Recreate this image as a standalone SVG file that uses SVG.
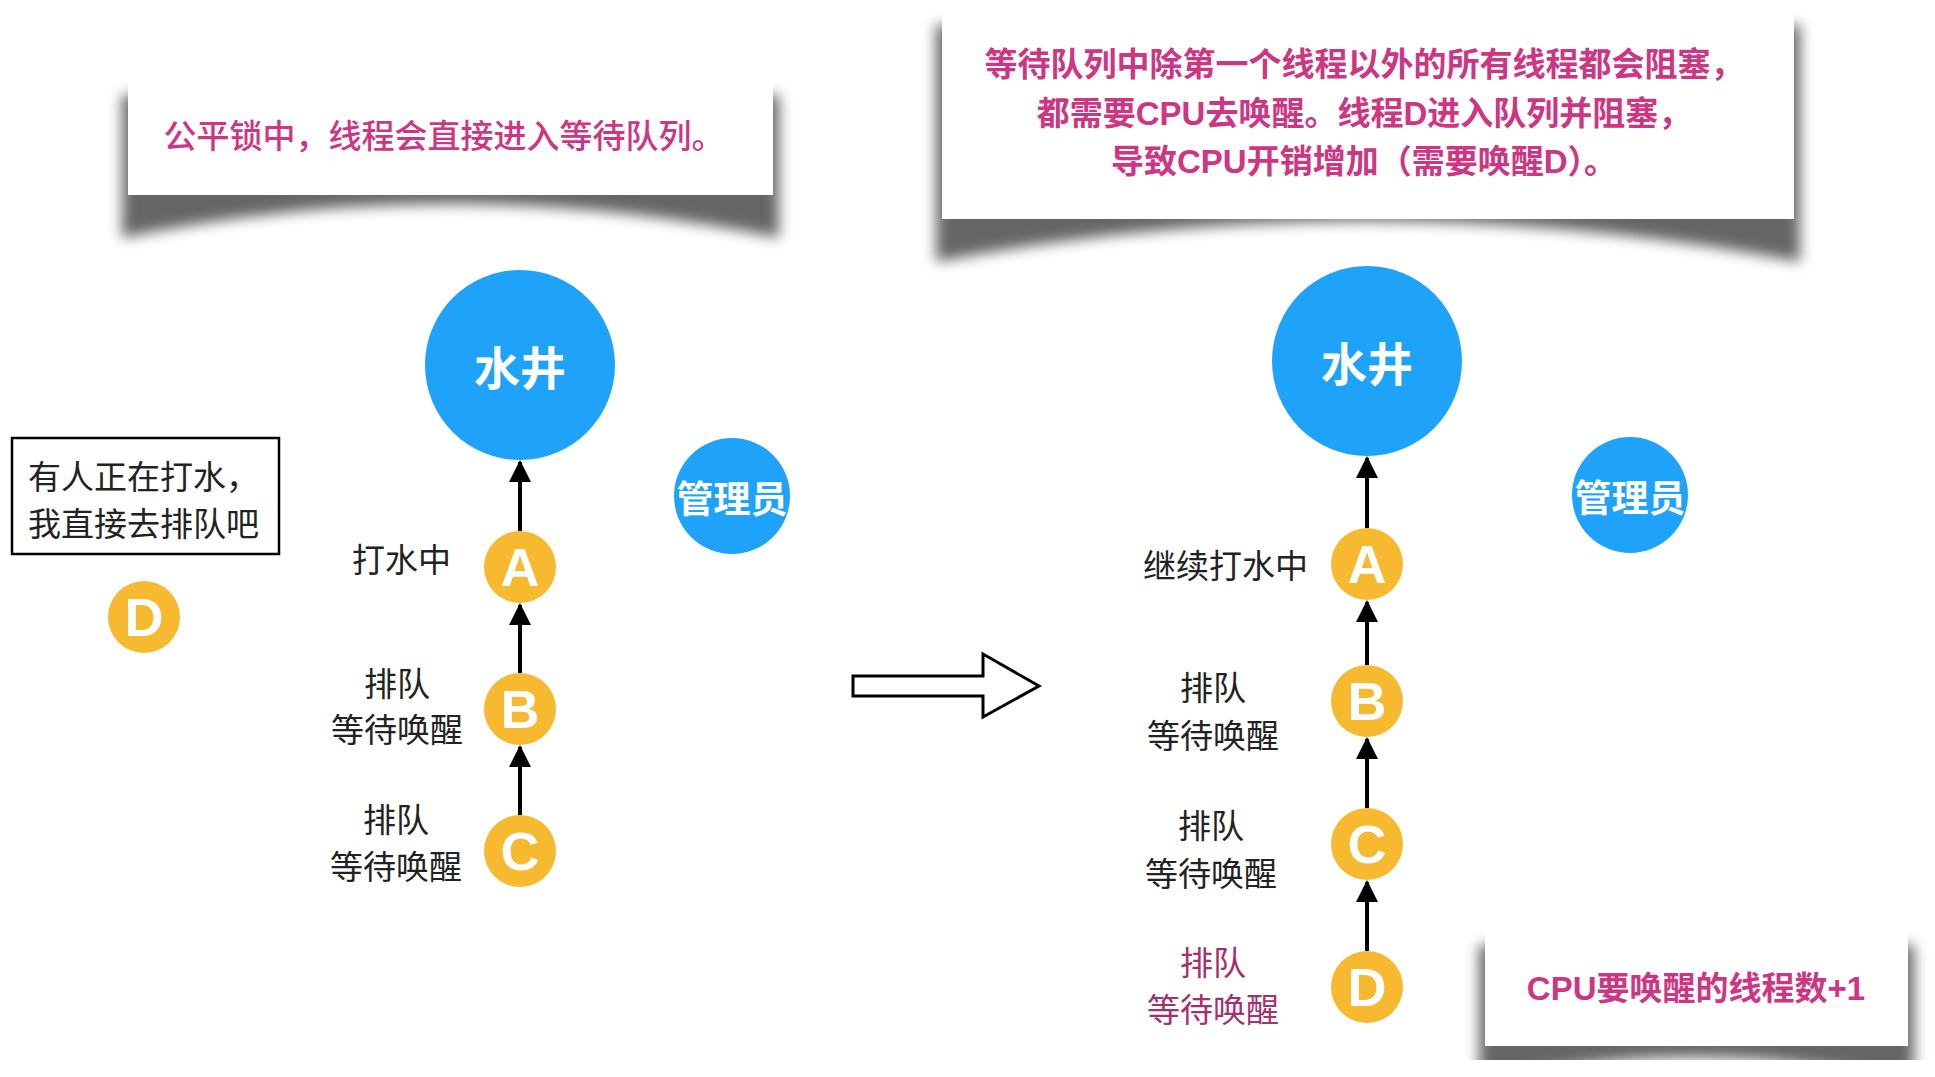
<svg xmlns="http://www.w3.org/2000/svg" width="1935" height="1077" viewBox="0 0 1935 1077">
<style>
.cjk{font-family:"Noto Sans CJK SC","Liberation Sans",sans-serif;}
.note{font-family:"Liberation Sans","Noto Sans CJK SC",sans-serif;fill:#CD3683;font-size:33px;text-anchor:middle;dominant-baseline:central;}
.lbl{font-family:"Noto Sans CJK SC",sans-serif;font-size:33px;fill:#222;dominant-baseline:central;}
.lbl.new{fill:#A3306F;}
.well{fill:#1FA3FA;}
.wtxt{font-family:"Noto Sans CJK SC",sans-serif;fill:#fff;text-anchor:middle;dominant-baseline:central;font-weight:bold;}
.thr{fill:#F6B92F;}
.ltr{font-family:"Liberation Sans",Arial,sans-serif;font-weight:bold;font-size:54px;fill:#fff;text-anchor:middle;}
.card{fill:#fff;}
.shadow{fill:#000;opacity:0.6;filter:url(#blur);}
.conn{stroke:#000;stroke-width:4;fill:none;marker-end:url(#ah);}
</style>
<defs>
<filter id="blur" x="-10%" y="-30%" width="120%" height="160%"><feGaussianBlur stdDeviation="7"/></filter>
<marker id="ah" markerUnits="userSpaceOnUse" markerWidth="22" markerHeight="22" viewBox="0 0 22 22" refX="20" refY="11" orient="auto"><path d="M0,0 L22,11 L0,22 Z" fill="#000"/></marker>
<clipPath id="clipBottom"><rect x="0" y="0" width="1935" height="1060"/></clipPath>
</defs>
<rect width="1935" height="1077" fill="#fff"/>

<!-- left note -->
<g id="note-left">
<path class="shadow" d="M122,95 L779,95 L779,238 Q450,170 122,238 Z"/>
<rect class="card" x="128" y="77" width="645" height="118"/>
<text class="note" x="444" y="136" font-weight="500">公平锁中，线程会直接进入等待队列。</text>
</g>

<!-- right note -->
<g id="note-right">
<path class="shadow" d="M936,25 L1800,25 L1800,262 Q1368,180 936,262 Z"/>
<rect class="card" x="942" y="5" width="852" height="214"/>
<text class="note" x="1364" y="64" font-weight="bold">等待队列中除第一个线程以外的所有线程都会阻塞，</text>
<text class="note" x="1364" y="113" font-weight="bold">都需要CPU去唤醒。线程D进入队列并阻塞，</text>
<text class="note" x="1364" y="161" font-weight="bold">导致CPU开销增加（需要唤醒D）。</text>
</g>

<!-- speech box -->
<g id="say-box">
<rect x="12" y="438" width="267" height="116" fill="#fff" stroke="#000" stroke-width="2.5"/>
<text class="cjk" x="28" y="475" font-size="33" fill="#222" dominant-baseline="central">有人正在打水，</text>
<text class="cjk" x="28" y="522" font-size="33" fill="#222" dominant-baseline="central">我直接去排队吧</text>
</g>

<!-- left side nodes -->
<g id="well-left"><circle class="well" cx="520" cy="365" r="95"/><text class="wtxt" x="520" y="365" font-size="46">水井</text></g>
<g id="admin-left"><circle class="well" cx="732" cy="496" r="58"/><text class="wtxt" x="732" y="497" font-size="37">管理员</text></g>
<g id="D-left"><circle class="thr" cx="144" cy="617" r="36"/><text class="ltr" x="144" y="636">D</text></g>
<g id="A-left"><circle class="thr" cx="520" cy="567" r="36"/><text class="ltr" x="520" y="586">A</text><text class="lbl" x="451" y="558" text-anchor="end">打水中</text></g>
<g id="B-left"><circle class="thr" cx="520" cy="709" r="36"/><text class="ltr" x="520" y="728">B</text><text class="lbl" x="397" y="682" text-anchor="middle">排队</text><text class="lbl" x="397" y="728" text-anchor="middle">等待唤醒</text></g>
<g id="C-left"><circle class="thr" cx="520" cy="851" r="36"/><text class="ltr" x="520" y="870">C</text><text class="lbl" x="396" y="818" text-anchor="middle">排队</text><text class="lbl" x="396" y="865" text-anchor="middle">等待唤醒</text></g>

<!-- right side nodes -->
<g id="well-right"><circle class="well" cx="1367" cy="361" r="95"/><text class="wtxt" x="1367" y="361" font-size="46">水井</text></g>
<g id="admin-right"><circle class="well" cx="1630" cy="495" r="58"/><text class="wtxt" x="1630" y="496" font-size="37">管理员</text></g>
<g id="A-right"><circle class="thr" cx="1367" cy="564" r="36"/><text class="ltr" x="1367" y="583">A</text><text class="lbl" x="1308" y="564" text-anchor="end">继续打水中</text></g>
<g id="B-right"><circle class="thr" cx="1367" cy="701" r="36"/><text class="ltr" x="1367" y="720">B</text><text class="lbl" x="1213" y="686" text-anchor="middle">排队</text><text class="lbl" x="1213" y="734" text-anchor="middle">等待唤醒</text></g>
<g id="C-right"><circle class="thr" cx="1367" cy="844" r="36"/><text class="ltr" x="1367" y="863">C</text><text class="lbl" x="1211" y="824" text-anchor="middle">排队</text><text class="lbl" x="1211" y="872" text-anchor="middle">等待唤醒</text></g>
<g id="D-right"><circle class="thr" cx="1367" cy="987" r="36"/><text class="ltr" x="1367" y="1006">D</text><text class="lbl new" x="1213" y="961" text-anchor="middle">排队</text><text class="lbl new" x="1213" y="1008" text-anchor="middle">等待唤醒</text></g>

<!-- CPU note -->
<g id="note-cpu">
<path class="shadow" clip-path="url(#clipBottom)" d="M1479,945 L1914,945 L1914,1085 Q1696,1030 1479,1085 Z"/>
<rect class="card" x="1485" y="928" width="423" height="118"/>
<text class="note" x="1696" y="988" font-weight="bold" font-size="33">CPU要唤醒的线程数+1</text>
</g>

<!-- transition arrow -->
<g id="transition">
<polygon points="853,676 983,676 983,654 1039,686 983,717 983,696 853,696" fill="#fff" stroke="#000" stroke-width="3"/>
</g>

<!-- connectors -->
<g id="connectors">
<line class="conn" x1="520" y1="531" x2="520" y2="462"/>
<line class="conn" x1="520" y1="673" x2="520" y2="605"/>
<line class="conn" x1="520" y1="815" x2="520" y2="747"/>
<line class="conn" x1="1367" y1="528" x2="1367" y2="458"/>
<line class="conn" x1="1367" y1="665" x2="1367" y2="602"/>
<line class="conn" x1="1367" y1="808" x2="1367" y2="739"/>
<line class="conn" x1="1367" y1="951" x2="1367" y2="882"/>
</g>
</svg>
